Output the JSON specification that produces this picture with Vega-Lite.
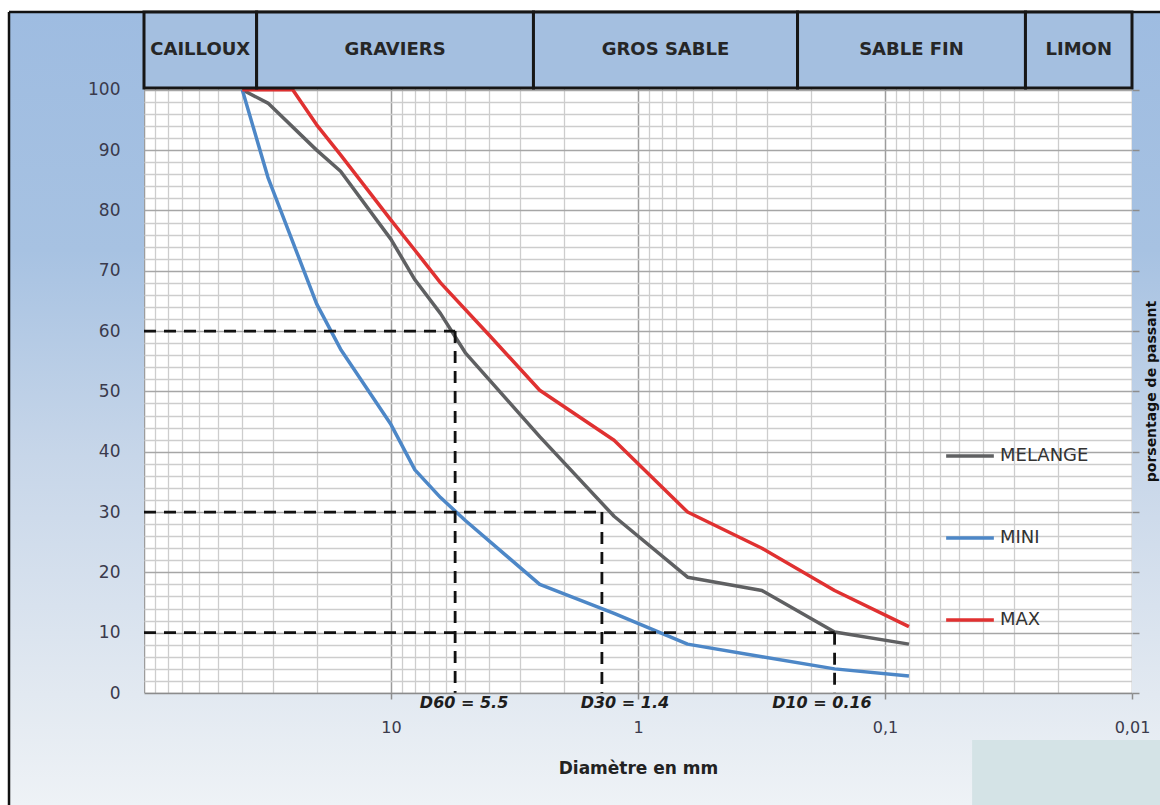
{
  "$schema": "https://vega.github.io/schema/vega-lite/v6.json",
  "width": 988,
  "height": 681,
  "autosize": {"type": "none"},
  "padding": {"left": 144, "top": 12, "right": 28, "bottom": 112},
  "background": "#ffffff",
  "config": {"view": {"stroke": null}},
  "datasets": {
    "curves": [
      {"serie": "MELANGE", "d": 40, "p": 100},
      {"serie": "MELANGE", "d": 31.5, "p": 97.8},
      {"serie": "MELANGE", "d": 20, "p": 90},
      {"serie": "MELANGE", "d": 16, "p": 86.5},
      {"serie": "MELANGE", "d": 10, "p": 75.2},
      {"serie": "MELANGE", "d": 8, "p": 68.5},
      {"serie": "MELANGE", "d": 6.3, "p": 62.9},
      {"serie": "MELANGE", "d": 5, "p": 56.4},
      {"serie": "MELANGE", "d": 2.5, "p": 42.5},
      {"serie": "MELANGE", "d": 1.25, "p": 29.3},
      {"serie": "MELANGE", "d": 0.63, "p": 19.2},
      {"serie": "MELANGE", "d": 0.315, "p": 17},
      {"serie": "MELANGE", "d": 0.16, "p": 10.1},
      {"serie": "MELANGE", "d": 0.08, "p": 8.1},
      {"serie": "MINI", "d": 40, "p": 100},
      {"serie": "MINI", "d": 31.5, "p": 85.5},
      {"serie": "MINI", "d": 20, "p": 64.5},
      {"serie": "MINI", "d": 16, "p": 57},
      {"serie": "MINI", "d": 10, "p": 44.5},
      {"serie": "MINI", "d": 8, "p": 37},
      {"serie": "MINI", "d": 6.3, "p": 32.4},
      {"serie": "MINI", "d": 5, "p": 28.6},
      {"serie": "MINI", "d": 2.5, "p": 18},
      {"serie": "MINI", "d": 1.25, "p": 13.2},
      {"serie": "MINI", "d": 0.63, "p": 8.1},
      {"serie": "MINI", "d": 0.315, "p": 6},
      {"serie": "MINI", "d": 0.16, "p": 4},
      {"serie": "MINI", "d": 0.08, "p": 2.8},
      {"serie": "MAX", "d": 40, "p": 100},
      {"serie": "MAX", "d": 25, "p": 100},
      {"serie": "MAX", "d": 20, "p": 94.2},
      {"serie": "MAX", "d": 16, "p": 89.2},
      {"serie": "MAX", "d": 10, "p": 78.4},
      {"serie": "MAX", "d": 8, "p": 73.4},
      {"serie": "MAX", "d": 6.3, "p": 68},
      {"serie": "MAX", "d": 4, "p": 59.3},
      {"serie": "MAX", "d": 2.5, "p": 50.2},
      {"serie": "MAX", "d": 1.25, "p": 41.9},
      {"serie": "MAX", "d": 0.63, "p": 30},
      {"serie": "MAX", "d": 0.315, "p": 24},
      {"serie": "MAX", "d": 0.16, "p": 17},
      {"serie": "MAX", "d": 0.08, "p": 11}
    ],
    "dlines": [
      {"x1": 100, "x2": 5.5, "y1": 60, "y2": 60},
      {"x1": 5.5, "x2": 5.5, "y1": 60, "y2": 0},
      {"x1": 100, "x2": 1.4, "y1": 30, "y2": 30},
      {"x1": 1.4, "x2": 1.4, "y1": 30, "y2": 0},
      {"x1": 100, "x2": 0.16, "y1": 10, "y2": 10},
      {"x1": 0.16, "x2": 0.16, "y1": 10, "y2": 0}
    ],
    "dlabels": [
      {"label": "D60 = 5.5", "at": 5.06},
      {"label": "D30 = 1.4", "at": 1.13},
      {"label": "D10 = 0.16", "at": 0.18}
    ],
    "zones": [
      {"zone": "CAILLOUX", "from": 100, "to": 35, "mid": 59.2},
      {"zone": "GRAVIERS", "from": 35, "to": 2.65, "mid": 9.63},
      {"zone": "GROS SABLE", "from": 2.65, "to": 0.226, "mid": 0.774},
      {"zone": "SABLE FIN", "from": 0.226, "to": 0.027, "mid": 0.0781},
      {"zone": "LIMON", "from": 0.027, "to": 0.01, "mid": 0.01643}
    ],
    "sides": [
      {"x1": 352, "x2": 100, "y1": 112.9, "y2": -18.6},
      {"x1": 0.01, "x2": 0.004, "y1": 112.9, "y2": -18.6}
    ],
    "bottom": [
      {"x1": 100, "x2": 0.01, "y1": 0, "y2": -18.6}
    ],
    "patch": [
      {"x1": 0.0444, "x2": 0.004, "y1": -7.8, "y2": -18.6}
    ],
    "frame": [
      {"x1": 352, "x2": 0.004, "y1": 112.9, "y2": 112.9},
      {"x1": 352, "x2": 352, "y1": 112.9, "y2": -18.6}
    ]
  },
  "resolve": {"axis": {"x": "independent", "y": "independent"}},
  "layer": [
    {
      "data": {"name": "sides"},
      "mark": {"type": "rect", "color": {"gradient": "linear", "x1": 0, "y1": 0, "x2": 0, "y2": 1, "stops": [
        {"offset": 0, "color": "#9ebce1"},
        {"offset": 0.3, "color": "#a7c2e2"},
        {"offset": 0.56, "color": "#c7d6e9"},
        {"offset": 0.86, "color": "#e2e9f1"},
        {"offset": 1, "color": "#eef2f6"}
      ]}},
      "encoding": {
        "x": {"field": "x1", "type": "quantitative", "scale": {"type": "log", "domain": [0.01, 100], "reverse": true, "nice": false}, "axis": null},
        "x2": {"field": "x2"},
        "y": {"field": "y1", "type": "quantitative", "scale": {"domain": [0, 112.9], "nice": false, "zero": false},
          "axis": {"orient": "left", "values": [0, 10, 20, 30, 40, 50, 60, 70, 80, 90, 100], "grid": false, "ticks": false, "tickSize": 0, "domain": false, "labelPadding": 24, "labelFont": "DejaVu Sans", "labelFontSize": 17, "labelColor": "#3a3a4c", "labelOverlap": false, "labelFlush": false, "title": null, "zindex": 1}},
        "y2": {"field": "y2"}
      }
    },
    {
      "data": {"name": "bottom"},
      "mark": {"type": "rect", "color": {"gradient": "linear", "x1": 0, "y1": 0, "x2": 0, "y2": 1, "stops": [
        {"offset": 0, "color": "#e2e9f1"},
        {"offset": 1, "color": "#eef2f6"}
      ]}},
      "encoding": {
        "x": {"field": "x1", "type": "quantitative", "axis": null},
        "x2": {"field": "x2"},
        "y": {"field": "y1", "type": "quantitative", "axis": null},
        "y2": {"field": "y2"}
      }
    },
    {
      "data": {"name": "patch"},
      "mark": {"type": "rect", "color": "#d4e3e6"},
      "encoding": {
        "x": {"field": "x1", "type": "quantitative", "axis": null},
        "x2": {"field": "x2"},
        "y": {"field": "y1", "type": "quantitative", "axis": null},
        "y2": {"field": "y2"}
      }
    },
    {
      "data": {"name": "frame"},
      "mark": {"type": "rule", "color": "#111111", "strokeWidth": 2.5},
      "encoding": {
        "x": {"field": "x1", "type": "quantitative", "axis": null},
        "x2": {"field": "x2"},
        "y": {"field": "y1", "type": "quantitative", "axis": null},
        "y2": {"field": "y2"}
      }
    },
    {
      "data": {"name": "curves"},
      "mark": {"type": "line", "strokeWidth": 3.5, "strokeJoin": "round"},
      "encoding": {
        "x": {"field": "d", "type": "quantitative",
          "axis": {"orient": "bottom", "values": [90, 80, 70, 60, 50, 40, 30, 20, 9, 8, 7, 6, 5, 4, 3, 2, 0.9, 0.8, 0.7, 0.6, 0.5, 0.4, 0.3, 0.2, 0.09, 0.08, 0.07, 0.06, 0.05, 0.04, 0.03, 0.02], "grid": true, "gridColor": "#cdcdcd", "gridWidth": 1.3, "labels": false, "ticks": false, "domain": false, "title": null}},
        "y": {"field": "p", "type": "quantitative",
          "axis": {"orient": "left", "values": [2, 4, 6, 8, 12, 14, 16, 18, 22, 24, 26, 28, 32, 34, 36, 38, 42, 44, 46, 48, 52, 54, 56, 58, 62, 64, 66, 68, 72, 74, 76, 78, 82, 84, 86, 88, 92, 94, 96, 98], "grid": true, "gridColor": "#cdcdcd", "gridWidth": 1.3, "labels": false, "ticks": false, "domain": false, "title": null}},
        "color": {"field": "serie", "type": "nominal",
          "scale": {"domain": ["MELANGE", "MINI", "MAX"], "range": ["#5f6062", "#4d87c7", "#e03131"]},
          "legend": {"orient": "none", "legendX": 800, "legendY": 418, "title": null, "symbolType": "stroke", "symbolSize": 2275, "symbolStrokeWidth": 3.5, "labelFont": "DejaVu Sans", "labelFontSize": 18, "labelColor": "#333333", "labelOffset": 4, "rowPadding": 47, "padding": 0, "direction": "vertical"}}
      }
    },
    {
      "data": {"name": "dlines"},
      "mark": {"type": "rule", "color": "#111111", "strokeWidth": 2.8, "strokeDash": [12, 8]},
      "encoding": {
        "x": {"field": "x1", "type": "quantitative",
          "axis": {"orient": "bottom", "values": [100, 10, 1, 0.1, 0.01], "grid": true, "gridColor": "#9c9c9c", "gridWidth": 1.5, "labels": false, "ticks": false, "domain": false, "title": null}},
        "x2": {"field": "x2"},
        "y": {"field": "y1", "type": "quantitative",
          "axis": {"orient": "left", "values": [0, 10, 20, 30, 40, 50, 60, 70, 80, 90, 100], "grid": true, "gridColor": "#a6a6a6", "gridWidth": 1.4, "labels": false, "ticks": false, "domain": false, "title": null}},
        "y2": {"field": "y2"}
      }
    },
    {
      "data": {"name": "zones"},
      "mark": {"type": "rect", "fill": "#a4bfe0", "stroke": "#161616", "strokeWidth": 3},
      "encoding": {
        "x": {"field": "from", "type": "quantitative",
          "axis": {"orient": "bottom", "values": [10, 1, 0.1, 0.01], "grid": false, "ticks": true, "tickSize": 6, "tickColor": "#8c8c8c", "tickWidth": 1.5, "domain": true, "domainColor": "#8c8c8c", "domainWidth": 1.5, "labelExpr": "replace(toString(datum.value), '.', ',')", "labelFont": "DejaVu Sans", "labelFontSize": 16, "labelColor": "#3a3a4c", "labelPadding": 20, "labelFlush": false, "labelOverlap": false, "title": "Diamètre en mm", "titleFont": "DejaVu Sans", "titleFontSize": 17, "titleFontWeight": "bold", "titleColor": "#222222", "titleY": 75, "titleBaseline": "middle", "zindex": 1}},
        "x2": {"field": "to"},
        "y": {"datum": 100.3, "type": "quantitative",
          "axis": {"orient": "right", "values": [0, 10, 20, 30, 40, 50, 60, 70, 80, 90, 100], "grid": false, "ticks": true, "tickSize": 7, "tickColor": "#8c8c8c", "tickWidth": 1.5, "labels": false, "domain": false, "title": "porsentage de passant", "titleFont": "DejaVu Sans", "titleFontSize": 14, "titleFontWeight": "bold", "titleColor": "#111111", "titleAngle": 270, "titleX": 19, "titleY": 379, "titleAlign": "center", "titleBaseline": "middle", "zindex": 1}},
        "y2": {"datum": 112.9}
      }
    },
    {
      "data": {"name": "zones"},
      "mark": {"type": "text", "font": "DejaVu Sans", "fontSize": 18, "fontWeight": "bold", "color": "#262626", "align": "center", "baseline": "middle"},
      "encoding": {
        "x": {"field": "mid", "type": "quantitative", "axis": null},
        "y": {"datum": 106.6, "type": "quantitative", "axis": null},
        "text": {"field": "zone"}
      }
    },
    {
      "data": {"name": "dlabels"},
      "mark": {"type": "text", "font": "DejaVu Sans", "fontSize": 16, "fontWeight": "bold", "fontStyle": "italic", "color": "#1e1e1e", "align": "center", "baseline": "middle"},
      "encoding": {
        "x": {"field": "at", "type": "quantitative", "axis": null},
        "y": {"datum": -1.74, "type": "quantitative", "axis": null},
        "text": {"field": "label"}
      }
    }
  ]
}
